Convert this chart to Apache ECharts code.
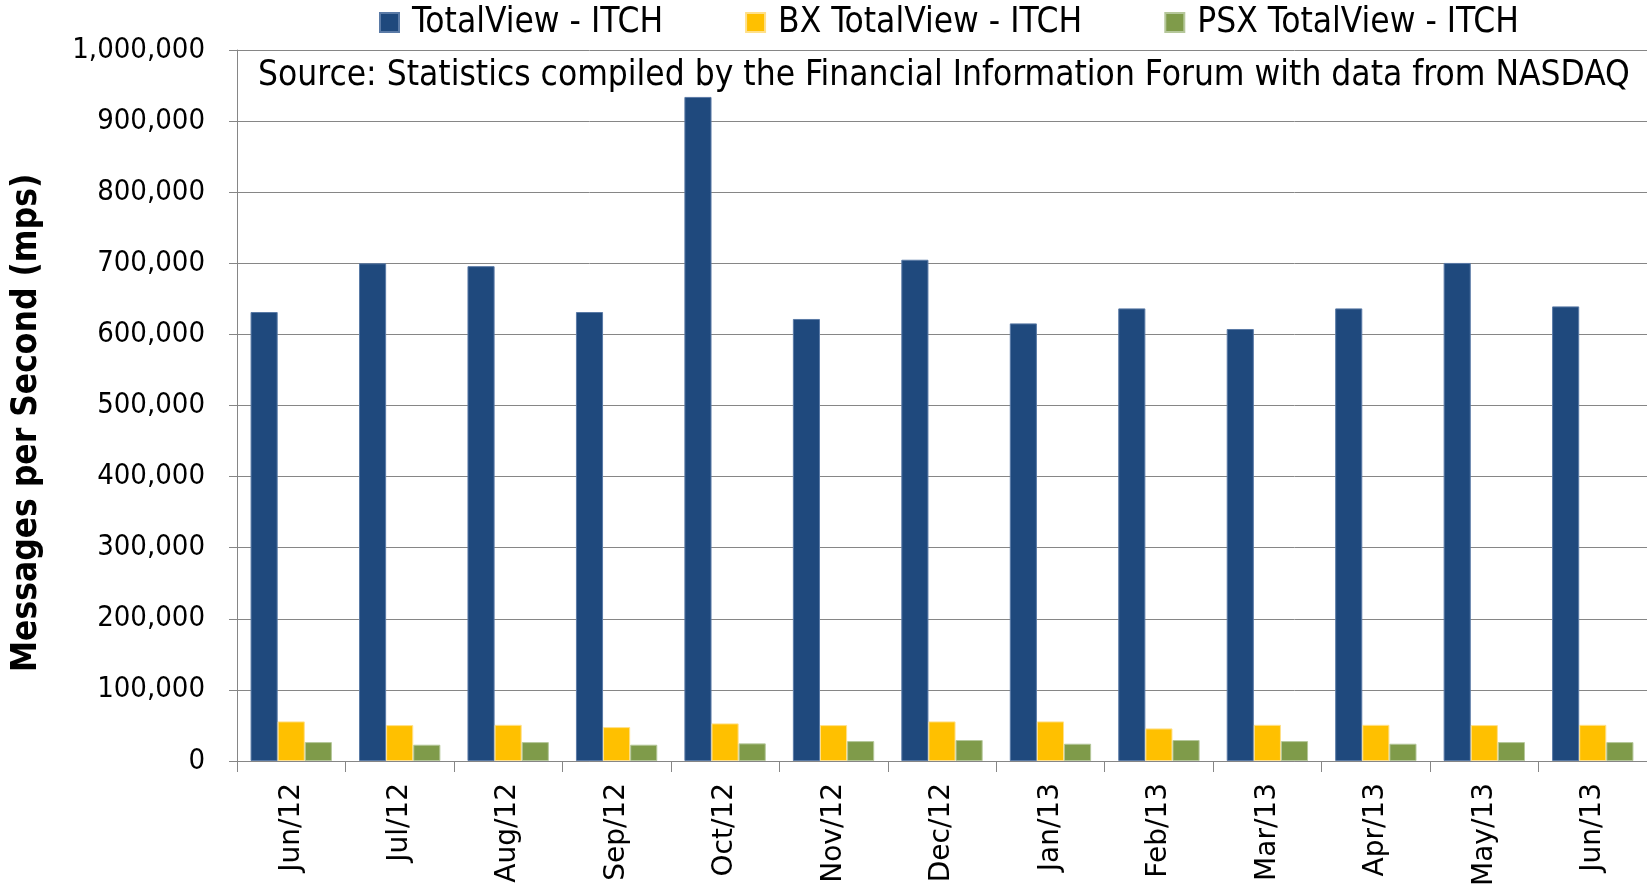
<html>
<meta http-equiv="Content-Type" content="text/html; charset=UTF-8">
<script type="text/javascript" src="https://cdn.jsdelivr.net/npm/echarts@6/dist/echarts.min.js"></script>
<body style="margin:0;">
<div id="chart" style="width:1647px;height:894px;"></div>
<script type="text/javascript">
var months = ["Jun/12","Jul/12","Aug/12","Sep/12","Oct/12","Nov/12","Dec/12","Jan/13","Feb/13","Mar/13","Apr/13","May/13","Jun/13"];
var totalView = [631500,700000,696000,631500,934000,621700,705000,615500,636600,607600,636600,700500,639400];
var bxTotalView = [55700,50500,50900,47700,52900,50500,55700,55700,45800,50900,50900,50500,50900];
var psxTotalView = [26600,22900,26600,22900,24800,28000,29500,24300,29500,28000,24300,26600,26600];
var seriesNames = ["TotalView - ITCH","BX TotalView - ITCH","PSX TotalView - ITCH"];

var font = "DejaVu Sans Condensed, DejaVu Sans, sans-serif";
var myChart = echarts.init(document.getElementById('chart'));

function fmt(v){
  return String(v).replace(/\B(?=(\d{3})+(?!\d))/g, ",");
}

myChart.setOption({
  animation: false,
  backgroundColor: "#fff",
  title: {
    text: "Source: Statistics compiled by the Financial Information Forum with data from NASDAQ",
    left: 253,
    top: 53,
    textStyle: {fontFamily: font, fontSize: 35, fontWeight: "normal", color: "#000"}
  },
  legend: {
    left: 374,
    top: 0,
    itemWidth: 19,
    itemHeight: 19,
    itemGap: 82,
    icon: "rect",
    textStyle: {fontFamily: font, fontSize: 35, color: "#000", padding: [0,0,0,8]},
    data: seriesNames
  },
  graphic: [{
    type: "text",
    x: 27,
    y: 423,
    rotation: Math.PI / 2,
    style: {
      text: "Messages per Second (mps)",
      fontFamily: font,
      fontSize: 35,
      fontWeight: "bold",
      fill: "#000",
      align: "center",
      verticalAlign: "middle"
    }
  }],
  grid: {left: 237, right: 0, top: 50, bottom: 133},
  xAxis: {
    type: "category",
    data: months,
    axisLine: {lineStyle: {color: "#868686", width: 1}},
    axisTick: {show: true, length: 11, lineStyle: {color: "#868686"}},
    axisLabel: {
      rotate: 90,
      margin: 22,
      fontFamily: "DejaVu Sans, sans-serif",
      fontSize: 28,
      color: "#000"
    }
  },
  yAxis: {
    type: "value",
    min: 0,
    max: 1000000,
    interval: 100000,
    axisLine: {show: true, lineStyle: {color: "#868686"}},
    axisTick: {show: true, length: 8, lineStyle: {color: "#868686"}},
    splitLine: {show: true, lineStyle: {color: "#868686", width: 1}},
    axisLabel: {
      margin: 32,
      fontFamily: font,
      fontSize: 29,
      color: "#000",
      formatter: fmt
    }
  },
  series: [
    {
      name: seriesNames[0],
      type: "bar",
      data: totalView,
      barGap: "0%",
      barCategoryGap: "25%",
      itemStyle: {color: "#1F497D", borderColor: "#5a7aa6", borderWidth: 1}
    },
    {
      name: seriesNames[1],
      type: "bar",
      data: bxTotalView,
      barGap: "0%",
      barCategoryGap: "25%",
      itemStyle: {color: "#FFC000", borderColor: "#ffe08a", borderWidth: 1}
    },
    {
      name: seriesNames[2],
      type: "bar",
      data: psxTotalView,
      barGap: "0%",
      barCategoryGap: "25%",
      itemStyle: {color: "#7F9B4A", borderColor: "#b5c79a", borderWidth: 1}
    }
  ]
});
</script>
</body>
</html>
